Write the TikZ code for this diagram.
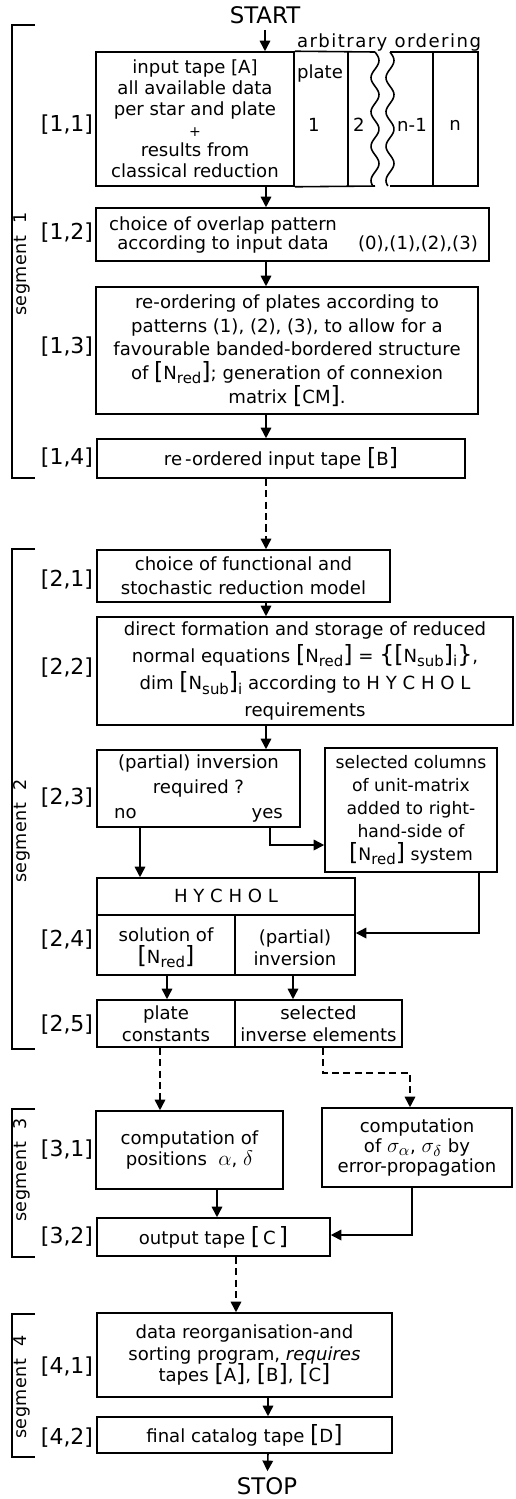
\documentclass[tikz,border=0pt]{standalone}
\usepackage{fontspec}
\setmainfont{DejaVu Sans}
\newfontfamily\segfont[LetterSpace=8]{DejaVu Sans}
\newfontfamily\segfontb[LetterSpace=3]{DejaVu Sans}
\usetikzlibrary{arrows.meta}
\newcommand{\tlb}{{\fontsize{13.5}{13.5}\selectfont[}}
\newcommand{\trb}{{\fontsize{13.5}{13.5}\selectfont]}}
\newcommand{\tlc}{{\fontsize{13.5}{13.5}\selectfont\{}}
\newcommand{\trc}{{\fontsize{13.5}{13.5}\selectfont\}}}
\newcommand{\lowr}[1]{\raisebox{-0.45ex}{\fontsize{8.5}{8.5}\selectfont #1}}
\newcommand{\grk}[1]{{\fontsize{12.5}{12.5}\selectfont$#1$}}
\begin{document}
\begin{tikzpicture}[x=0.02cm,y=-0.02cm,
  every node/.append style={align=center},
  font=\fontsize{10.3}{12.5}\selectfont,
  box/.style={draw,line width=0.9pt,inner sep=0pt},
  arr/.style={line width=0.9pt,-{Triangle[length=6pt,width=6pt]}},
  dsh/.style={arr,dash pattern=on 4pt off 2.5pt},
  lbl/.style={font=\fontsize{12.5}{14}\selectfont},
  seg/.style={rotate=90,font=\segfontb\fontsize{10}{11}\selectfont}]
\useasboundingbox (0,0) rectangle (515,1499);

% segment brackets
\foreach \n/\t/\b/\m in {1/25/478/264,2/549/1049/831,3/1109/1257/1170,4/1314/1457/1387}{
  \draw[line width=0.6pt] (35,\t) -- (12,\t) -- (12,\b) -- (35,\b);
  \node[seg] (s\n) at (22,\m) {segment\ \ \n};
}
\foreach \i/\j/\y in {1/1/125,1/2/233,1/3/347,1/4/458,2/1/580,2/2/668,2/3/798,2/4/940,2/5/1025,3/1/1150,3/2/1237,4/1/1367,4/2/1438}
  \node[lbl] (l\i\j) at (67,\y) {[\i,\j]};

\node (start) at (265,15) {\fontsize{13}{13}\selectfont START};
\coordinate (sp) at (266,0);

% segment 1
\node[box,minimum width=3.96cm,minimum height=2.68cm,font=\fontsize{10.3}{11.8}\selectfont] (b11) at (195,119)
  {input tape [A]\\ all available data\\ per star and plate\\ {\footnotesize +}\\ results from\\ classical reduction};
\draw[line width=0.9pt] (b11.north east) -- (375,52) (390,52) -- (478,52) -- (478,186) -- (390,186) (375,186) -- (b11.south east);
\draw[line width=0.9pt] (348,52) -- (348,186) (433,52) -- (433,186);
\draw[line width=0.9pt] plot[domain=52:186,samples=80,smooth] ({375+4*sin(10.5*(\x-52))},\x);
\draw[line width=0.9pt] plot[domain=52:186,samples=80,smooth] ({390+4*sin(10.5*(\x-52))},\x);
\node[font=\segfont\fontsize{10.3}{12}\selectfont] (arb) at (389,42) {arbitrary ordering};
\node (pl) at (320,73) {plate};
\node (p1) at (314,125) {1};
\node (p2) at (359,125) {2};
\node (pn1) at (412,125) {n-1};
\node (pn) at (455,125) {n};

\node[box,minimum width=7.86cm,minimum height=1.06cm] (b12) at (292.5,234.5) {};
\node[font=\fontsize{10.3}{11}\selectfont] (ovl) at (223,235) {choice of overlap pattern\\ according to input data};
\node (pat) at (418,244) {(0),(1),(2),(3)};
\node[box,minimum width=7.64cm,minimum height=2.54cm,font=\fontsize{10.3}{13.5}\selectfont] (b13) at (287,350.5)
  {re-ordering of plates according to\\ patterns (1), (2), (3), to allow for a\\ favourable banded-bordered structure\\
   of \tlb N\lowr{red}\trb; generation of connexion\\ matrix \tlb CM\trb.};
\node[box,minimum width=7.36cm,minimum height=0.78cm] (b14) at (281,458.5) {re\,-ordered input tape \tlb B\trb};

\draw[arr] (start) -- (start |- b11.north);
\draw[arr] (b11.south -| sp) -- (b12.north -| sp);
\draw[arr] (b12.south -| sp) -- (b13.north -| sp);
\draw[arr] (b13.south -| sp) -- (b14.north -| sp);

% segment 2
\node[box,minimum width=5.86cm,minimum height=1.04cm,font=\fontsize{10.3}{13.5}\selectfont] (b21) at (243.5,576)
  {choice of functional and\\ stochastic reduction model};
\node[box,minimum width=8.32cm,minimum height=2.16cm,font=\fontsize{10.3}{15.5}\selectfont] (b22) at (305,671)
  {direct formation and storage of reduced\\
   normal equations \tlb N\lowr{red}\trb{} = \tlc\tlb N\lowr{sub}\trb\lowr{i}\trc,\\
   dim \tlb N\lowr{sub}\trb\lowr{i} according to H Y C H O L\\ requirements};
\node[box,minimum width=4.06cm,minimum height=1.54cm,font=\fontsize{10.3}{14}\selectfont] (b23) at (198.5,788.5)
  {(partial) inversion\\ required ?\\ no\hspace{2.3cm}yes};
\node[box,minimum width=3.44cm,minimum height=2.48cm,font=\fontsize{9.8}{13}\selectfont] (bunit) at (411,810)
  {selected columns\\ of unit-matrix\\ added to right-\\ hand-side of\\ \tlb N\lowr{red}\trb{} system};
\node[box,minimum width=5.16cm,minimum height=1.94cm] (b24) at (226,926.5) {};
\coordinate (hy) at (235,915);
\draw[line width=0.9pt] (b24.west |- hy) -- (b24.east |- hy) (hy) -- (hy |- b24.south);
\node (hychol) at (226,896) {H Y C H O L};
\node (sol) at (166,948) {solution of\\ \tlb N\lowr{red}\trb};
\node (inv) at (295,948) {(partial)\\ inversion};
\node[box,minimum width=6.10cm,minimum height=0.94cm] (b25) at (249.5,1023.5) {};
\coordinate (dv) at (235,0);
\draw[line width=0.9pt] (dv |- b25.north) -- (dv |- b25.south);
\node (plc) at (166,1024) {plate\\ constants};
\node (sel) at (318.5,1024) {selected\\ inverse elements};

\draw[dsh] (b14.south -| sp) -- (b21.north -| sp);
\draw[arr] (b21.south -| sp) -- (b22.north -| sp);
\draw[arr] (b22.south -| sp) -- (b23.north -| sp);
\coordinate (nox) at (140,0);
\coordinate (yesx) at (270,845);
\coordinate (ux) at (479,933);
\draw[arr] (b23.south -| nox) -- (b24.north -| nox);
\draw[arr] (b23.south -| yesx) |- (bunit.west |- yesx);
\draw[arr] (bunit.south -| ux) |- (b24.east |- ux);
\coordinate (lx) at (167,0);
\coordinate (rx) at (293,0);
\draw[arr] (b24.south -| lx) -- (b25.north -| lx);
\draw[arr] (b24.south -| rx) -- (b25.north -| rx);

% segment 3
\node[box,minimum width=3.74cm,minimum height=1.56cm,font=\fontsize{10.3}{12.5}\selectfont] (b31) at (189.5,1150)
  {computation of\\ positions\ \ \grk{\alpha}, \grk{\delta}};
\node[box,minimum width=3.80cm,minimum height=1.58cm,font=\fontsize{10.3}{11.5}\selectfont] (bsig) at (417,1147.5)
  {computation\\ of \grk{\sigma_\alpha}, \grk{\sigma_\delta} by\\ error-propagation};
\node[box,minimum width=4.66cm,minimum height=0.76cm] (b32) at (213.5,1237) {output tape \tlb\,C\,\trb};

\coordinate (dlx) at (160,0);
\coordinate (drx) at (323,1073);
\coordinate (dsx) at (410,1073);
\draw[dsh] (b25.south -| dlx) -- (b31.north -| dlx);
\draw[dsh] (b25.south -| drx) |- (dsx) -- (bsig.north -| dsx);
\coordinate (ax) at (217,0);
\coordinate (sx) at (412,1235);
\draw[arr] (b31.south -| ax) -- (b32.north -| ax);
\draw[arr] (bsig.south -| sx) |- (b32.east |- sx);

% segment 4
\node[box,minimum width=5.90cm,minimum height=1.68cm,font=\fontsize{10.3}{12.5}\selectfont] (b41) at (244.5,1355)
  {data reorganisation-and\\ sorting program, \textit{requires}\\ tapes \tlb A\trb, \tlb B\trb, \tlb C\trb};
\node[box,minimum width=5.90cm,minimum height=0.72cm] (b42) at (244.5,1435) {final catalog tape \tlb D\trb};
\node (stop) at (267,1486) {\fontsize{13}{13}\selectfont STOP};

\coordinate (bx) at (236,0);
\coordinate (cx) at (268,0);
\draw[dsh] (b32.south -| bx) -- (b41.north -| bx);
\draw[arr] (b41.south -| cx) -- (b42.north -| cx);
\draw[arr] (b42.south -| cx) -- (stop);
\end{tikzpicture}
\end{document}
